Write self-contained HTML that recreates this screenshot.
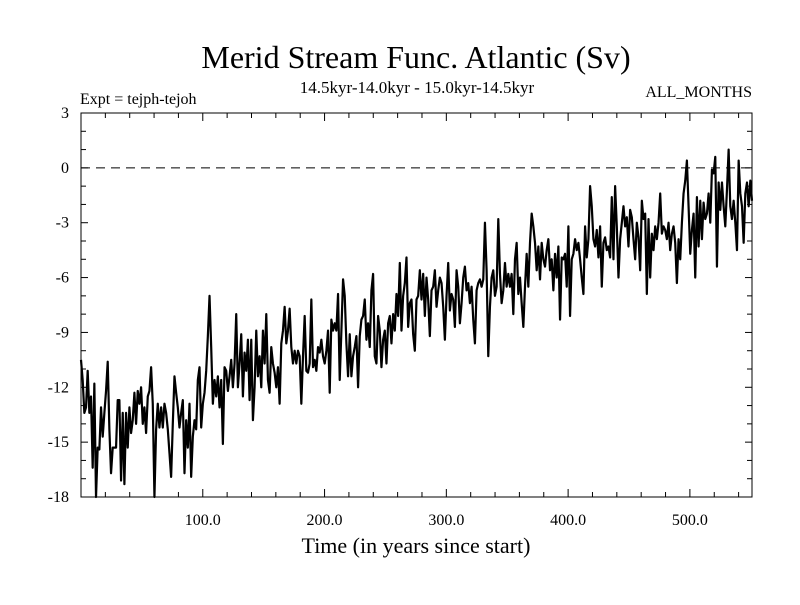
<!DOCTYPE html>
<html><head><meta charset="utf-8"><style>
html,body{margin:0;padding:0;background:#fff;}
svg text{font-family:"Liberation Serif",serif;fill:#000;}
</style></head><body>
<svg id="chart" width="800" height="600" viewBox="0 0 800 600" xmlns="http://www.w3.org/2000/svg">
<text x="416" y="68" font-size="32" text-anchor="middle">Merid Stream Func. Atlantic (Sv)</text>
<text x="417" y="93" font-size="17" text-anchor="middle">14.5kyr-14.0kyr - 15.0kyr-14.5kyr</text>
<text x="80" y="104" font-size="16">Expt = tejph-tejoh</text>
<text x="752" y="97" font-size="16" text-anchor="end">ALL_MONTHS</text>
<text x="416" y="553" font-size="22" text-anchor="middle">Time (in years since start)</text>
<g id="axes"></g>
<g id="series"></g>
</svg>
<script>
const xTickValues=[100,200,300,400,500];
const xTickLabels=["100.0","200.0","300.0","400.0","500.0"];
const yTickValues=[3,0,-3,-6,-9,-12,-15,-18];
const yTickLabels=["3","0","-3","-6","-9","-12","-15","-18"];
const xDomain=[0,551];
const yDomain=[-18,3];
const seg1=[-10.5,-11.6,-13.4,-13.1,-11.1,-13.4,-12.5,-16.4,-11.8,-18.0,-15.3,-15.4,-13.1,-14.7,-13.4,-12.2,-10.6,-14.3,-16.7,-15.3,-15.3,-15.3,-12.7,-12.7,-17.1,-13.4,-17.3,-13.4,-15.3,-13.1,-14.5,-13.8,-12.3,-14.0,-12.2,-12.9,-12.0,-14.0,-13.1,-14.5,-12.5,-12.2,-10.9,-12.9,-18.0,-14.3,-12.9,-14.2,-13.1,-14.2,-12.9,-13.4,-14.3,-15.6,-16.9,-14.0,-11.4,-12.3,-13.1,-14.2,-13.4,-12.7,-16.7,-13.8,-15.3,-12.9,-16.9,-14.7,-13.8,-14.3,-11.6,-10.9,-14.2,-12.9,-12.3,-11.1,-9.2,-7.0,-9.8,-12.9,-11.6,-12.5,-11.4,-13.1,-11.6,-15.1,-10.9];
const seg2=[-11.1,-12.2,-11.4,-10.5,-12.0,-10.7,-8.0,-12.0,-10.7,-9.1,-12.5,-10.1,-11.1,-9.4,-12.7,-9.4,-13.8,-12.0,-8.9,-11.4,-10.3,-12.0,-8.9,-10.7,-8.0,-11.6,-12.3,-9.8,-10.7,-11.2,-12.0,-10.9,-12.9,-9.6,-8.9,-7.6,-9.6,-8.9,-7.7,-9.8,-10.7,-10.0,-10.7,-10.0,-10.3,-12.9,-10.3,-8.1,-11.1,-11.2,-10.7,-7.2,-10.9,-10.5,-11.1,-9.8,-10.1,-9.4,-10.3,-10.7,-10.0,-8.9,-12.3,-8.3,-8.9,-8.5,-8.9,-6.9,-11.6,-8.9,-6.1,-7.0,-9.6,-11.4,-9.1,-11.4,-10.3,-9.8,-9.2,-12.0,-9.2,-8.3,-8.1,-7.2,-9.4];
const seg3=[-8.5,-9.8,-6.7,-5.8,-10.3,-10.7,-8.1,-8.9,-10.9,-9.4,-8.9,-10.7,-8.5,-8.1,-9.6,-8.0,-8.9,-6.9,-8.1,-5.2,-8.9,-7.0,-6.3,-4.9,-8.7,-7.4,-7.2,-9.1,-10.0,-7.2,-7.0,-5.6,-7.2,-5.8,-8.1,-6.0,-7.2,-9.2,-6.7,-6.5,-5.6,-7.6,-6.7,-6.0,-6.3,-7.6,-9.4,-7.0,-5.2,-7.8,-6.9,-7.2,-8.7,-5.6,-6.5,-8.5,-7.4,-6.0,-5.4,-6.7,-6.3,-7.4,-6.5,-8.3,-9.6,-6.7,-6.3,-6.1,-6.5,-6.1,-3.0,-5.6,-10.3,-7.6,-6.0,-5.6,-7.0,-6.5,-2.8,-5.8,-7.4,-6.7,-5.2,-6.5,-5.8];
const seg4=[-6.5,-5.8,-8.0,-5.0,-4.1,-6.9,-6.0,-7.4,-8.7,-6.5,-4.7,-6.5,-4.1,-2.5,-3.2,-4.1,-5.6,-4.3,-6.1,-4.1,-5.0,-5.4,-4.5,-3.9,-5.6,-5.0,-6.7,-4.7,-6.0,-4.3,-8.3,-4.9,-5.0,-4.7,-6.5,-3.2,-8.1,-5.0,-4.7,-3.9,-4.5,-4.1,-5.0,-6.0,-6.9,-3.2,-4.9,-3.9,-1.0,-2.1,-3.9,-4.3,-3.4,-4.9,-3.2,-6.5,-4.1,-3.8,-4.5,-4.3,-4.9,-1.6,-5.0,-1.0,-3.2,-6.0,-3.9,-3.0,-2.1,-3.2,-2.7,-4.3,-2.3];
const seg5=[-2.7,-3.9,-5.0,-3.0,-3.8,-5.6,-1.8,-2.8,-2.5,-6.9,-2.8,-6.0,-3.6,-4.5,-3.2,-3.9,-3.0,-1.4,-3.6,-3.2,-3.4,-3.9,-3.0,-4.5,-3.6,-3.2,-4.1,-6.3,-3.9,-5.0,-3.0,-1.4,-0.7,0.4,-2.1,-4.7,-3.4,-2.5,-6.0,-1.6,-4.3,-1.8,-3.9,-1.9,-2.8,-2.5,-1.4,-3.0,-0.1,-0.3,0.6,-5.4,-0.8,-2.3,-0.8,-2.1,-3.2,-1.2,1.0,-2.1,-2.8,-1.8,-3.0,-4.5,0.4,-1.4,-2.1,-4.1,-1.4,-0.8,-2.1,-0.7,-1.8];
const values=seg1.concat(seg2,seg3,seg4,seg5);

const L=81,R=752,T=113,B=497;
const NS="http://www.w3.org/2000/svg";
function xs(v){return L+(v-xDomain[0])/(xDomain[1]-xDomain[0])*(R-L);}
function ys(v){return B-(v-yDomain[0])/(yDomain[1]-yDomain[0])*(B-T);}
function mk(tag,attrs,parent){const e=document.createElementNS(NS,tag);for(const k in attrs)e.setAttribute(k,attrs[k]);parent.appendChild(e);return e;}
const axes=document.getElementById('axes');
const frame=mk('rect',{x:L,y:T,width:R-L,height:B-T,fill:'none',stroke:'#000','stroke-width':1},axes);


const zl=mk('line',{x1:L,x2:R,y1:ys(0),y2:ys(0),stroke:'#000','stroke-width':1,'stroke-dasharray':'9,6'},axes);


for(let v=yDomain[0];v<=yDomain[1];v++){
  const y=ys(v);const len=(v%3===0)?7:5;
  const t1=mk('line',{x1:L,x2:L+len,y1:y,y2:y,stroke:'#000'},axes);
  
  
  const t2=mk('line',{x1:R-len,x2:R,y1:y,y2:y,stroke:'#000'},axes);
  
  
}
for(let v=20;v<xDomain[1];v+=20){
  const x=xs(v);const len=(v%100===0)?8:5;
  const t1=mk('line',{x1:x,x2:x,y1:B,y2:B-len,stroke:'#000'},axes);
  
  
  const t2=mk('line',{x1:x,x2:x,y1:T,y2:T+len,stroke:'#000'},axes);
  
  
}
yTickValues.forEach((v,i)=>{
  const t=mk('text',{x:69,y:ys(v)+5,'font-size':16,'text-anchor':'end'},axes);
  t.textContent=yTickLabels[i];
  
  
});
xTickValues.forEach((v,i)=>{
  const t=mk('text',{x:xs(v),y:525,'font-size':16,'text-anchor':'middle'},axes);
  t.textContent=xTickLabels[i];
  
  
});
const n=values.length;
let d='';
values.forEach((v,i)=>{const yr=xDomain[0]+i*(xDomain[1]-xDomain[0])/(n-1);d+=(i?'L':'M')+xs(yr).toFixed(2)+','+ys(v).toFixed(2);});
const line=mk('path',{d:d,fill:'none',stroke:'#000','stroke-width':2.2,'stroke-linejoin':'round'},document.getElementById('series'));


</script>
</body></html>
